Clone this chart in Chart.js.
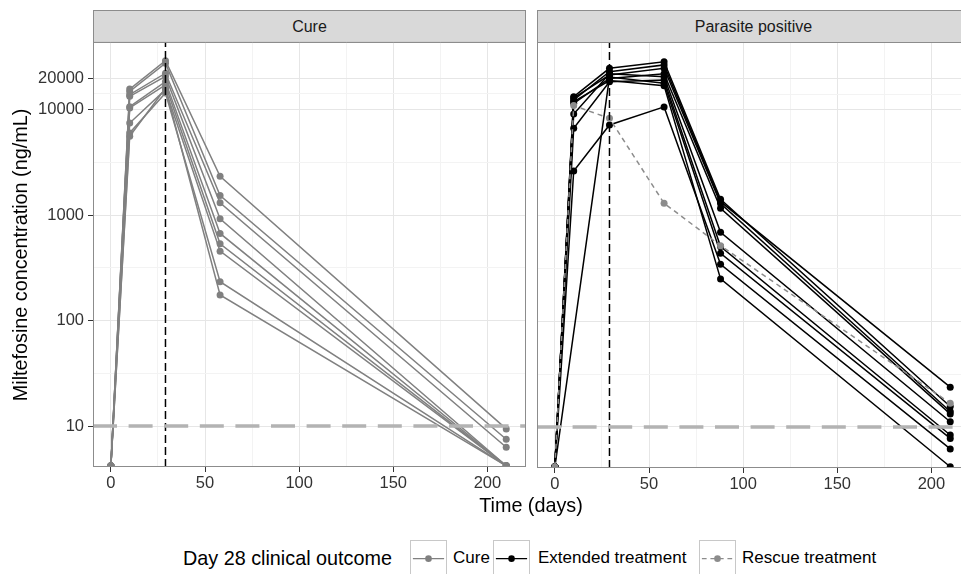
<!DOCTYPE html>
<html>
<head>
<meta charset="utf-8">
<script src="https://cdn.jsdelivr.net/npm/chart.js@4.4.1/dist/chart.umd.min.js"></script>
<style>
  html, body { margin: 0; padding: 0; background: #fff; overflow: hidden; }
  #wrap { position: relative; width: 961px; height: 574px; overflow: hidden;
          font-family: "Liberation Sans", Arial, sans-serif; color: #000; }
  canvas { position: absolute; }
  .strip { position: absolute; top: 10px; height: 33px; box-sizing: border-box;
           background: #d9d9d9; border: 1px solid #8c8c8c; font-size: 16px; color: #1a1a1a;
           text-align: center; line-height: 31px; }
  .ytitle { position: absolute; left: 20px; top: 255px; width: 500px; margin-left: -250px;
            height: 24px; margin-top: -12px; line-height: 24px;
            text-align: center; font-size: 19.8px; transform: rotate(-90deg); }
  .xtitle { position: absolute; left: 331px; width: 400px; top: 493px; height: 24px; line-height: 24px;
            text-align: center; font-size: 19.8px; }
  .lg { position: absolute; white-space: nowrap; line-height: 24px; top: 546px; }
  .lgt { font-size: 19.8px; }
  .lgl { font-size: 17px; }
  .key { position: absolute; top: 540px; width: 37px; height: 60px; box-sizing: border-box;
         border: 1px solid #c8c8c8; background: #fff; }
</style>
</head>
<body>
<div id="wrap">
  <div class="strip" style="left:93px;width:433px;">Cure</div>
  <div class="strip" style="left:537px;width:433px;">Parasite positive</div>
  <canvas id="cureChart"></canvas>
  <canvas id="posChart"></canvas>
  <div class="ytitle">Miltefosine concentration (ng/mL)</div>
  <div class="xtitle">Time (days)</div>

  <span class="lg lgt" style="left:183px;">Day 28 clinical outcome</span>
  <svg class="key" style="left:410px" viewBox="0 0 37 60"><line x1="2" y1="18" x2="35" y2="18" stroke="#808080" stroke-width="1.5"/><circle cx="18.5" cy="18" r="3.5" fill="#808080"/></svg>
  <span class="lg lgl" style="left:453px;">Cure</span>
  <svg class="key" style="left:493px" viewBox="0 0 37 60"><line x1="2" y1="18" x2="35" y2="18" stroke="#000" stroke-width="1.5"/><circle cx="18.5" cy="18" r="3.5" fill="#000"/></svg>
  <span class="lg lgl" style="left:538px;">Extended treatment</span>
  <svg class="key" style="left:699px" viewBox="0 0 37 60"><line x1="2" y1="18" x2="35" y2="18" stroke="#8c8c8c" stroke-width="1.5" stroke-dasharray="5 4"/><circle cx="18.5" cy="18" r="3.5" fill="#8c8c8c"/></svg>
  <span class="lg lgl" style="left:742px;">Rescue treatment</span>
</div>
<script>
// sampling days, one column per time point
const sampleDays = [0, 10, 29, 58, 88, 210];

// Cure panel (9 patients), ng/mL, null = not sampled
const cureDay0   = [4.2, 4.2, 4.2, 4.2, 4.2, 4.2, 4.2, 4.2, 4.2];
const cureDay10  = [15700, 14900, 13900, 13400, 10700, 10400, 7480, 6030, 5600];
const cureDay29  = [29200, 27600, 22200, 20700, 18500, 17200, 15500, 14400, 16000];
const cureDay58  = [2340, 1535, 1310, 924, 671, 536, 456, 234, 175];
const cureDay88  = [null, null, null, null, null, null, null, null, null];
const cureDay210 = [9.4, 7.5, 6.3, 4.2, 4.2, 4.2, 4.2, 4.2, 4.2];

// Parasite positive panel, extended treatment (9 patients)
const extDay0   = [4.2, 4.2, 4.2, 4.2, 4.2, 4.2, 4.2, 4.2, 4.2];
const extDay10  = [13360, 12440, 13000, 11570, 9170, 6710, null, 2650, 12000];
const extDay29  = [24800, 23000, 21400, 19900, 22000, 18500, 20500, 7210, 19000];
const extDay58  = [28600, 26700, 24800, 22000, 20600, 19200, 17900, 10700, 17000];
const extDay88  = [1430, 1356, 1300, 1174, 697, 510, 441, 347, 252];
const extDay210 = [15.6, 23.8, 14.0, 13.3, 11.2, 8.4, 7.8, 6.2, 4.2];

// Parasite positive panel, rescue treatment (1 patient)
const rescueConc = [4.2, 11000, 8340, 1310, 520, 16.8];

const yTickLabels = [10, 100, 1000, 10000, 20000];
const yMinorTicks = [31.6, 316, 3162, 14142];
const xTickLabels = [0, 50, 100, 150, 200];
const xMinorTicks = [25, 75, 125, 175];
const lloq = 10;
const outcomeDay = 29;

const xMin = -9.5, xMax = 220.5;
const yMin = 4.09, yMax = 44000;

function patientSeries(cols, color, dash) {
  const n = cols[0].length;
  const out = [];
  for (let i = 0; i < n; i++) {
    const pts = [];
    sampleDays.forEach((d, k) => {
      const v = cols[k][i];
      if (v != null) pts.push({ x: d, y: v });
    });
    out.push({
      data: pts, borderColor: color, backgroundColor: color, borderWidth: 1.5,
      borderDash: dash || [], pointRadius: 3.5, pointHoverRadius: 3.5, pointBorderWidth: 0,
      pointBackgroundColor: color, order: 5
    });
  }
  return out;
}

function refLines() {
  return [
    { data: [{ x: xMin, y: lloq }, { x: xMax, y: lloq }], borderColor: '#b3b3b3',
      borderWidth: 3.5, borderDash: [24, 11.6], pointRadius: 0, order: 1 },
    { data: [{ x: outcomeDay, y: yMin }, { x: outcomeDay, y: yMax }], borderColor: '#000',
      borderWidth: 1.5, borderDash: [8, 4], pointRadius: 0, order: 2 }
  ];
}

const framePlugin = {
  id: 'frame',
  afterDatasetsDraw(chart) {
    const a = chart.chartArea, ctx = chart.ctx;
    ctx.save();
    ctx.strokeStyle = '#8c8c8c';
    ctx.lineWidth = 1;
    ctx.strokeRect(a.left + 0.5, a.top + 0.5, a.right - a.left - 1, a.bottom - a.top - 1);
    ctx.restore();
  }
};

function makeOptions(showY) {
  const majorY = v => yTickLabels.includes(v);
  const tickFont = { family: 'Liberation Sans', size: 16.5 };
  return {
    responsive: false, maintainAspectRatio: false, animation: false, events: [],
    layout: { padding: 0, autoPadding: false },
    plugins: { legend: { display: false }, tooltip: { enabled: false } },
    scales: {
      x: {
        type: 'linear', min: xMin, max: xMax, bounds: 'data',
        afterBuildTicks: s => { s.ticks = xTickLabels.concat(xMinorTicks).map(v => ({ value: v })); },
        afterFit: s => { s.height = 34; },
        border: { display: false },
        grid: {
          color: c => xTickLabels.includes(c.tick.value) ? '#e6e6e6' : '#f3f3f3',
          tickColor: c => xTickLabels.includes(c.tick.value) ? '#333' : 'rgba(0,0,0,0)',
          tickLength: 5
        },
        ticks: {
          callback: v => xTickLabels.includes(v) ? String(v) : '',
          color: '#333', font: tickFont, padding: 2, maxRotation: 0, autoSkip: false
        }
      },
      y: {
        type: 'logarithmic', min: yMin, max: yMax, bounds: 'data',
        afterBuildTicks: s => { s.ticks = yTickLabels.concat(yMinorTicks).map(v => ({ value: v })); },
        afterFit: s => { s.width = showY ? 93 : 0; },
        border: { display: false },
        grid: {
          color: c => majorY(c.tick.value) ? '#e6e6e6' : '#f3f3f3',
          tickColor: c => majorY(c.tick.value) ? '#333' : 'rgba(0,0,0,0)',
          tickLength: 5, drawTicks: showY
        },
        ticks: {
          display: showY,
          callback: v => majorY(v) ? String(v) : '',
          color: '#333', font: tickFont, padding: 4, autoSkip: false
        }
      }
    }
  };
}

// build a chart, then move/resize its canvas so the plot area sits exactly at `want`
function buildPanel(id, datasets, showY, want) {
  const canvas = document.getElementById(id);
  canvas.width = 500; canvas.height = 500;
  const cfg = () => ({ type: 'line', data: { datasets: datasets }, options: makeOptions(showY), plugins: [framePlugin] });
  let chart = new Chart(canvas, cfg());
  const a = chart.chartArea;
  const offL = a.left, offT = a.top, extraW = 500 - a.right, extraH = 500 - a.bottom;
  chart.destroy();
  canvas.width = (want.right - want.left) + offL + extraW;
  canvas.height = (want.bottom - want.top) + offT + extraH;
  canvas.style.left = (want.left - offL) + 'px';
  canvas.style.top = (want.top - offT) + 'px';
  return new Chart(canvas, cfg());
}

buildPanel('cureChart',
  refLines().concat(patientSeries([cureDay0, cureDay10, cureDay29, cureDay58, cureDay88, cureDay210], '#808080')),
  true, { left: 93, top: 42, right: 526, bottom: 468 });

const rescue = patientSeries(rescueConc.map(v => [v]), '#8c8c8c', [5, 4]);
rescue[0].order = 4;
buildPanel('posChart',
  refLines()
    .concat(patientSeries([extDay0, extDay10, extDay29, extDay58, extDay88, extDay210], '#000'))
    .concat(rescue),
  false, { left: 537, top: 42, right: 970, bottom: 468 });
</script>
</body>
</html>
